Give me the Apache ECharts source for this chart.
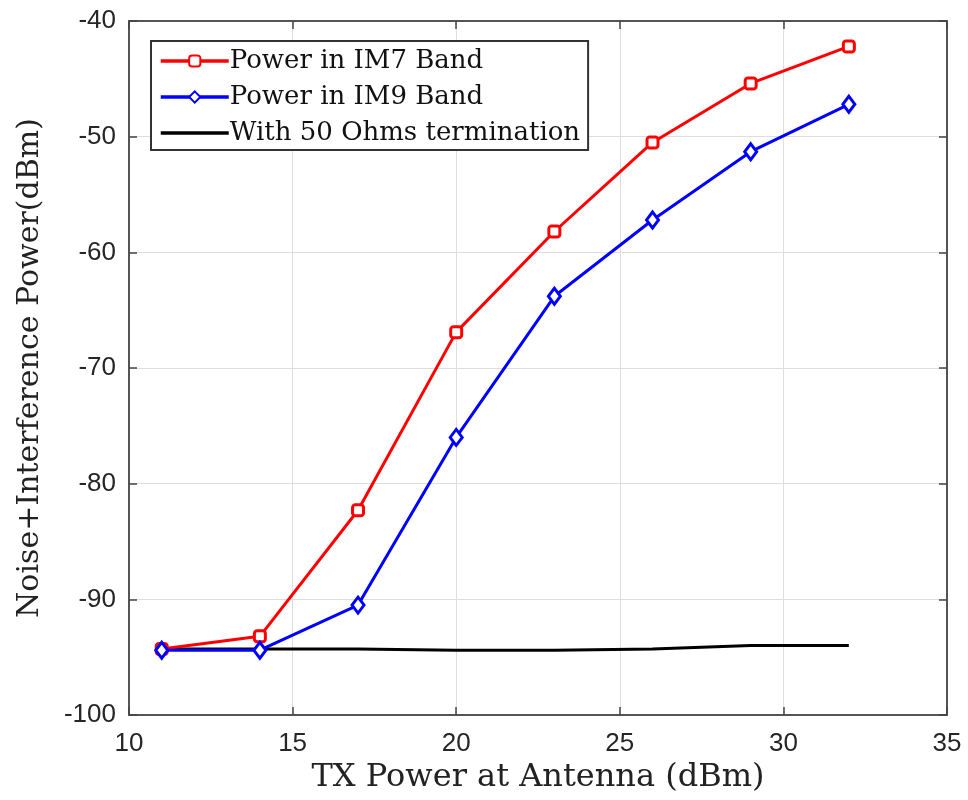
<!DOCTYPE html>
<html><head><meta charset="utf-8">
<script src="https://cdn.jsdelivr.net/npm/echarts@6/dist/echarts.min.js"></script>
<style>html,body{margin:0;padding:0;background:#fff}#c{width:968px;height:800px}</style>
</head><body><div id="c"></div>
<script>
var txPower = [11, 14, 17, 20, 23, 26, 29, 32];
var im7 = [-94.3, -93.2, -82.3, -66.9, -58.2, -50.5, -45.4, -42.2];
var im9 = [-94.4, -94.4, -90.5, -76.0, -63.8, -57.2, -51.3, -47.2];
var term50 = [-94.3, -94.3, -94.3, -94.4, -94.4, -94.3, -94.0, -94.0];
var seriesNames = ['Power in IM7 Band', 'Power in IM9 Band', 'With 50 Ohms termination'];

function pairs(xs, ys){ return xs.map(function(x,i){return [x, ys[i]];}); }

var chart = echarts.init(document.getElementById('c'));
var serif = 'DejaVu Serif';
var sans = 'Liberation Sans';
var axisCommon = {
  axisLine: {show: true, lineStyle: {color: '#555', width: 2}},
  axisTick: {show: true, inside: true, length: 8, lineStyle: {color: '#444', width: 1.5}},
  splitLine: {show: false}
};
chart.setOption({
  animation: false,
  backgroundColor: '#fff',
  grid: {left: 129, top: 21, width: 818, height: 694, containLabel: false, outerBoundsMode: 'none'},
  legend: {
    orient: 'vertical', left: 151, top: 41,
    data: [
      {name: seriesNames[0], lineStyle: {width: 3.5}},
      {name: seriesNames[1], lineStyle: {width: 3.5}},
      {name: seriesNames[2], lineStyle: {width: 3.5}, itemStyle: {color: 'rgba(0,0,0,0)', borderColor: 'rgba(0,0,0,0)', borderWidth: 0}}
    ],
    backgroundColor: '#fff',
    borderColor: '#333', borderWidth: 2,
    padding: [7, 8, 4, 8],
    itemWidth: 68, itemHeight: 14, itemGap: 10,
    textStyle: {fontFamily: serif, fontSize: 26, color: '#111', padding: [0,0,0,-4]}
  },
  xAxis: [
    Object.assign({type: 'value', min: 10, max: 35, interval: 5, position: 'bottom',
      name: 'TX Power at Antenna (dBm)', nameLocation: 'middle', nameGap: 46,
      nameTextStyle: {fontFamily: serif, fontSize: 32, color: '#222'},
      axisLabel: {fontFamily: sans, fontSize: 26, color: '#262626', margin: 16},
    }, axisCommon, {splitLine: {show: true, lineStyle: {color: '#dedede', width: 1}}}),
    Object.assign({type: 'value', min: 10, max: 35, interval: 5, position: 'top',
      axisLabel: {show: false}}, axisCommon)
  ],
  yAxis: [
    Object.assign({type: 'value', min: -100, max: -40, interval: 10, position: 'left',
      name: 'Noise+Interference Power(dBm)', nameLocation: 'middle', nameGap: 84,
      nameTextStyle: {fontFamily: serif, fontSize: 30, color: '#222'},
      axisLabel: {fontFamily: sans, fontSize: 26, color: '#262626', margin: 13},
    }, axisCommon, {splitLine: {show: true, lineStyle: {color: '#dedede', width: 1}}}),
    Object.assign({type: 'value', min: -100, max: -40, interval: 10, position: 'right',
      axisLabel: {show: false}}, axisCommon)
  ],
  series: [
    {name: seriesNames[0], type: 'line', data: pairs(txPower, im7),
     symbol: 'roundRect', symbolSize: 11, showAllSymbol: true,
     lineStyle: {color: '#ff0000', width: 3}, itemStyle: {color: '#fff', borderColor: '#ff0000', borderWidth: 3}, z: 3},
    {name: seriesNames[1], type: 'line', data: pairs(txPower, im9),
     symbol: 'diamond', symbolSize: [12, 16], showAllSymbol: true,
     lineStyle: {color: '#0000ff', width: 3}, itemStyle: {color: '#fff', borderColor: '#0000ff', borderWidth: 3}, z: 4},
    {name: seriesNames[2], type: 'line', data: pairs(txPower, term50),
     symbol: 'none', lineStyle: {color: '#000', width: 3}, itemStyle: {color: '#000'}, z: 2}
  ]
});
</script></body></html>
